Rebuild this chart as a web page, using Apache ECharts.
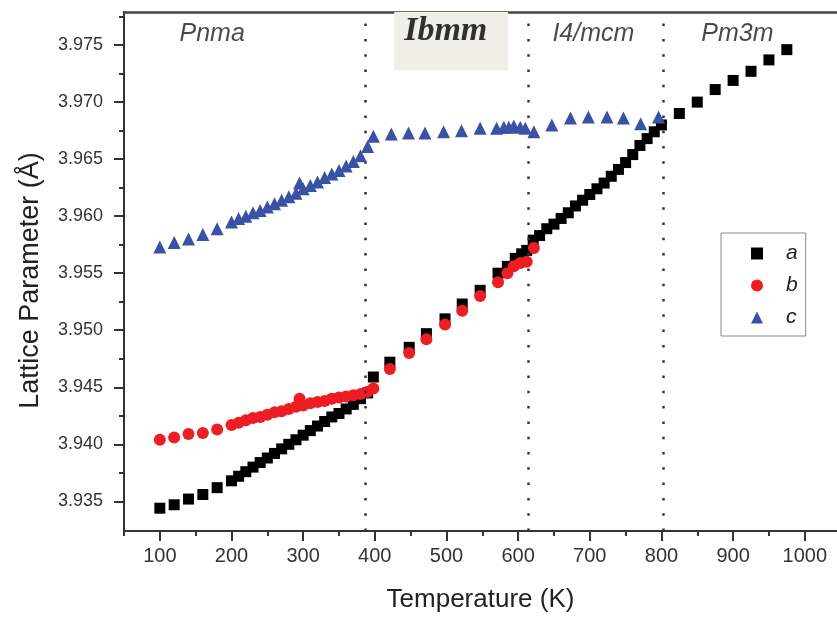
<!DOCTYPE html>
<html>
<head>
<meta charset="utf-8">
<script src="https://cdn.jsdelivr.net/npm/echarts@6/dist/echarts.min.js"></script>
<style>html,body{margin:0;padding:0;background:#fff}#c{width:837px;height:619px}</style>
</head>
<body>
<div id="c"></div>
<script>
// ---- data ----
var tempA = [100,120,140,160,180,200,210,220,230,240,250,260,270,280,290,300,310,320,330,340,350,360,370,380,390,398,421,448,472,498,522,547,572,585,596,605,612,621,630,640,650,660,670,680,690,700,710,720,730,740,750,760,770,780,790,800,825,850,875,900,925,950,975];
var latA = [3.9344,3.9347,3.9352,3.9356,3.9362,3.9368,3.9372,3.9376,3.9380,3.9384,3.9388,3.9392,3.9396,3.9400,3.9404,3.9408,3.9412,3.9416,3.9420,3.9424,3.9427,3.9431,3.9435,3.9440,3.9445,3.9459,3.9472,3.9485,3.9497,3.9510,3.9523,3.9535,3.9550,3.9556,3.9563,3.9567,3.9570,3.9579,3.9583,3.9589,3.9593,3.9598,3.9603,3.9609,3.9614,3.9619,3.9624,3.9629,3.9635,3.9641,3.9647,3.9654,3.9662,3.9668,3.9674,3.9680,3.9690,3.9700,3.9711,3.9719,3.9727,3.9737,3.9746];
var tempB = [100,120,140,160,180,200,210,220,230,240,250,260,270,280,290,295,300,310,320,330,340,350,360,370,380,390,398,421,448,472,498,522,547,572,585,594,603,612,622];
var latB = [3.9404,3.9406,3.9409,3.9410,3.9413,3.9417,3.9419,3.9421,3.9423,3.9424,3.9426,3.9428,3.9429,3.9431,3.9433,3.9440,3.9434,3.9436,3.9437,3.9438,3.9440,3.9441,3.9442,3.9443,3.9444,3.9446,3.9449,3.9466,3.9480,3.9492,3.9505,3.9517,3.9530,3.9542,3.9550,3.9556,3.9559,3.9560,3.9572];
var tempC = [100,120,140,160,180,200,210,220,230,240,250,260,270,280,290,295,300,310,320,330,340,350,360,370,380,390,398,423,447,470,496,521,547,570,580,587,594,603,610,622,647,673,698,724,747,771,796];
var latC = [3.9573,3.9577,3.9580,3.9584,3.9589,3.9595,3.9598,3.9600,3.9603,3.9605,3.9608,3.9611,3.9614,3.9617,3.9620,3.9629,3.9624,3.9627,3.9630,3.9634,3.9637,3.9640,3.9644,3.9648,3.9653,3.9661,3.9670,3.9672,3.9673,3.9673,3.9674,3.9675,3.9677,3.9677,3.9678,3.9678,3.9679,3.9678,3.9677,3.9674,3.9680,3.9686,3.9687,3.9687,3.9686,3.9681,3.9687];

var xMajorTicks = [100,200,300,400,500,600,700,800,900,1000];
var xMinorTicks = [50,150,250,350,450,550,650,750,850,950];
var yMajorTicks = [3.935,3.940,3.945,3.950,3.955,3.960,3.965,3.970,3.975];
var yMinorTicks = [3.9375,3.9425,3.9475,3.9525,3.9575,3.9625,3.9675,3.9725,3.9775];

var phaseBoundaries = [386, 614, 802];
var phaseNames = ['Pnma', 'I4/mcm', 'Pm3m'];
var phaseNameT = [173, 705, 906];
var phaseNameV = [3.9760, 3.9760, 3.9760];
var ibmmName = 'Ibmm';
var ibmmNameT = 499;
var ibmmNameV = 3.9762;
var ibmmBoxT = [427, 586];
var ibmmBoxV = [3.9728, 3.9779];

var X_MIN = 50, X_MAX = 1045, Y_MIN = 3.9324, Y_MAX = 3.9779;

function pairs(t, v) { return t.map(function (x, i) { return [x, v[i]]; }); }

var chart = echarts.init(document.getElementById('c'), null, {renderer: 'canvas'});
var FONT = '"Liberation Sans", Arial, sans-serif';
var axisCol = '#333';

var phaseData = phaseNames.map(function (n, i) { return {value: [phaseNameT[i], phaseNameV[i]], name: n}; });
phaseData.push({
  value: [ibmmNameT, ibmmNameV], name: ibmmName,
  label: {fontFamily: '"Liberation Serif", "DejaVu Serif", serif', fontStyle: 'italic', fontWeight: 'bold', fontSize: 34, color: '#000'}
});

chart.setOption({
  animation: false,
  backgroundColor: '#fff',
  grid: {left: 124, right: 0, top: 12, bottom: 88, containLabel: false},
  legend: {
    data: ['a', 'b', 'c'],
    orient: 'vertical',
    left: 721, top: 233,
    padding: [10, 8, 8, 30],
    itemGap: 11,
    itemWidth: 12, itemHeight: 12,
    borderColor: '#888', borderWidth: 1,
    textStyle: {fontFamily: FONT, fontStyle: 'italic', fontSize: 21, color: '#222', padding: [0, 0, 0, 18], lineHeight: 20}
  },
  xAxis: [{
    type: 'value', min: X_MIN, max: X_MAX, position: 'bottom',
    name: 'Temperature (K)', nameLocation: 'middle', nameGap: 56,
    nameTextStyle: {fontFamily: FONT, fontSize: 26, color: '#222'},
    axisLine: {show: true, onZero: false, lineStyle: {color: axisCol, width: 2}},
    axisTick: {show: true, length: 10, customValues: xMajorTicks, lineStyle: {color: axisCol, width: 2}},
    axisLabel: {show: true, customValues: xMajorTicks, margin: 15, fontFamily: FONT, fontSize: 20, color: '#333',
      formatter: function (v) { return String(v); }},
    splitLine: {show: false}
  }, {
    type: 'value', min: X_MIN, max: X_MAX, position: 'bottom', offset: 0,
    axisLine: {show: false, onZero: false},
    axisTick: {show: true, length: 5, customValues: xMinorTicks, lineStyle: {color: axisCol, width: 2}},
    axisLabel: {show: false},
    splitLine: {show: false}
  }, {
    type: 'value', min: X_MIN, max: X_MAX, position: 'top',
    axisLine: {show: true, onZero: false, lineStyle: {color: '#444', width: 2.5}},
    axisTick: {show: false}, axisLabel: {show: false}, splitLine: {show: false}
  }],
  yAxis: [{
    type: 'value', min: Y_MIN, max: Y_MAX, position: 'left',
    name: 'Lattice Parameter (Å)', nameLocation: 'middle', nameGap: 80, nameRotate: 90,
    nameTextStyle: {fontFamily: FONT, fontSize: 27, color: '#222', padding: [0, 18, 0, 0]},
    axisLine: {show: true, onZero: false, lineStyle: {color: axisCol, width: 2}},
    axisTick: {show: true, length: 10, customValues: yMajorTicks, lineStyle: {color: axisCol, width: 2}},
    axisLabel: {show: true, customValues: yMajorTicks, margin: 21, fontFamily: FONT, fontSize: 18, color: '#333',
      formatter: function (v) { return v.toFixed(3); }},
    splitLine: {show: false}
  }, {
    type: 'value', min: Y_MIN, max: Y_MAX, position: 'left', offset: 0,
    axisLine: {show: false, onZero: false},
    axisTick: {show: true, length: 5, customValues: yMinorTicks, lineStyle: {color: axisCol, width: 2}},
    axisLabel: {show: false},
    splitLine: {show: false}
  }],
  series: [{
    name: 'phases', type: 'scatter', symbol: 'circle', symbolSize: 1, silent: true,
    itemStyle: {color: 'rgba(0,0,0,0)'},
    data: phaseData,
    label: {show: true, position: 'inside', formatter: '{b}', fontFamily: FONT, fontStyle: 'italic', fontSize: 25, color: '#1a1a1a'},
    markArea: {
      silent: true,
      itemStyle: {color: '#efefe8'},
      data: [[{xAxis: ibmmBoxT[0], yAxis: ibmmBoxV[0]}, {xAxis: ibmmBoxT[1], yAxis: ibmmBoxV[1]}]]
    },
    markLine: {
      silent: true, symbol: 'none', label: {show: false},
      lineStyle: {color: '#333', width: 2.5, type: [2.5, 12.8]},
      data: phaseBoundaries.map(function (t) { return {xAxis: t}; })
    },
    z: 1
  }, {
    name: 'a', type: 'scatter', symbol: 'rect', symbolSize: 11,
    itemStyle: {color: '#000', opacity: 1},
    data: pairs(tempA, latA), z: 3
  }, {
    name: 'b', type: 'scatter', symbol: 'circle', symbolSize: 12,
    itemStyle: {color: '#ee1d23', opacity: 1},
    data: pairs(tempB, latB), z: 4
  }, {
    name: 'c', type: 'scatter', symbol: 'triangle', symbolSize: 13,
    itemStyle: {color: '#3a52a6', opacity: 1},
    data: pairs(tempC, latC), z: 5
  }]
});
</script>
</body>
</html>
